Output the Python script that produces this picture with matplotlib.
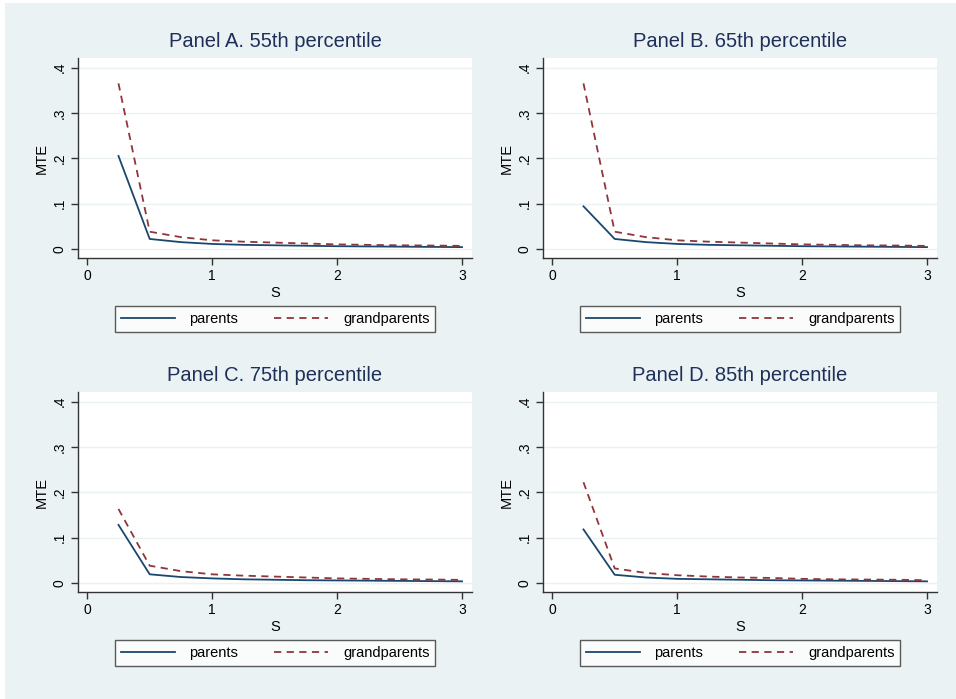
import matplotlib.pyplot as plt
from matplotlib.patches import Rectangle

plt.rcParams['font.family'] = ['Liberation Sans', 'DejaVu Sans']

# Data
s_vals = [0.25, 0.5, 0.75, 1.0, 1.25, 1.5, 1.75, 2.0, 2.25, 2.5, 2.75, 3.0]

titles = ['Panel A. 55th percentile', 'Panel B. 65th percentile',
          'Panel C. 75th percentile', 'Panel D. 85th percentile']

parents = [
    [0.205, 0.022, 0.015, 0.011, 0.009, 0.008, 0.007, 0.006, 0.0055, 0.005, 0.0045, 0.004],
    [0.094, 0.022, 0.015, 0.011, 0.009, 0.008, 0.007, 0.006, 0.0055, 0.005, 0.0045, 0.004],
    [0.128, 0.019, 0.013, 0.010, 0.008, 0.007, 0.006, 0.0055, 0.005, 0.0045, 0.004, 0.0035],
    [0.118, 0.018, 0.012, 0.009, 0.008, 0.007, 0.006, 0.0055, 0.005, 0.0045, 0.004, 0.0035],
]
grandparents = [
    [0.365, 0.038, 0.026, 0.019, 0.016, 0.014, 0.012, 0.010, 0.009, 0.008, 0.0075, 0.0067],
    [0.365, 0.038, 0.026, 0.019, 0.016, 0.014, 0.012, 0.010, 0.009, 0.008, 0.0075, 0.0067],
    [0.163, 0.038, 0.026, 0.019, 0.016, 0.014, 0.012, 0.010, 0.009, 0.008, 0.0075, 0.0067],
    [0.222, 0.032, 0.022, 0.017, 0.014, 0.012, 0.011, 0.009, 0.008, 0.0075, 0.007, 0.006],
]

bg = '#EAF2F3'
navy = '#1a476f'
maroon = '#90353b'

fig = plt.figure(figsize=(9.56, 6.99), dpi=100, facecolor='white')
fig.patches.append(Rectangle((5 / 956, 0), 1, 1 - 3 / 699, transform=fig.transFigure,
                             facecolor=bg, edgecolor='none', zorder=-10))

W, H = 956, 699
boxes = [(78, 58), (543, 58), (78, 392), (543, 392)]  # left, top in pixels
aw, ah = 394, 200

for i, (lx, ty) in enumerate(boxes):
    ax = fig.add_axes([lx / W, 1 - (ty + ah) / H, aw / W, ah / H])
    ax.set_facecolor('white')
    ax.plot(s_vals, parents[i], color=navy, lw=1.3, label='parents')
    ax.plot(s_vals, grandparents[i], color=maroon, lw=1.3, ls=(0, (4, 3)),
            label='grandparents')
    ax.set_xlim(-0.074, 3.08)
    ax.set_ylim(-0.02, 0.421)
    ax.set_xticks([0, 1, 2, 3])
    ax.set_yticks([0, 0.1, 0.2, 0.3, 0.4])
    ax.set_yticklabels(['0', '.1', '.2', '.3', '.4'], rotation=90, va='center')
    ax.tick_params(labelsize=10, length=5, width=1, color='#333333', pad=3)
    ax.grid(axis='y', color=bg, lw=1)
    ax.set_axisbelow(True)
    for side in ['top', 'right']:
        ax.spines[side].set_visible(False)
    for side in ['left', 'bottom']:
        ax.spines[side].set_color('#333333')
        ax.spines[side].set_linewidth(1)
    ax.set_xlabel('S', fontsize=10.5, labelpad=2)
    ax.set_ylabel('MTE', fontsize=10.5, labelpad=3)
    ax.set_title(titles[i], fontsize=14.5, color='#1e2f5a', pad=8)
    leg = ax.legend(loc='center', bbox_to_anchor=(0.5, -0.305), ncol=2, fontsize=10.5,
                    frameon=True, fancybox=False, edgecolor='#333333',
                    handlelength=3.7, handletextpad=1.0, columnspacing=2.5,
                    borderpad=0.4)
    leg.get_frame().set_linewidth(1)

fig.savefig('out.png', dpi=100, facecolor=fig.get_facecolor())
